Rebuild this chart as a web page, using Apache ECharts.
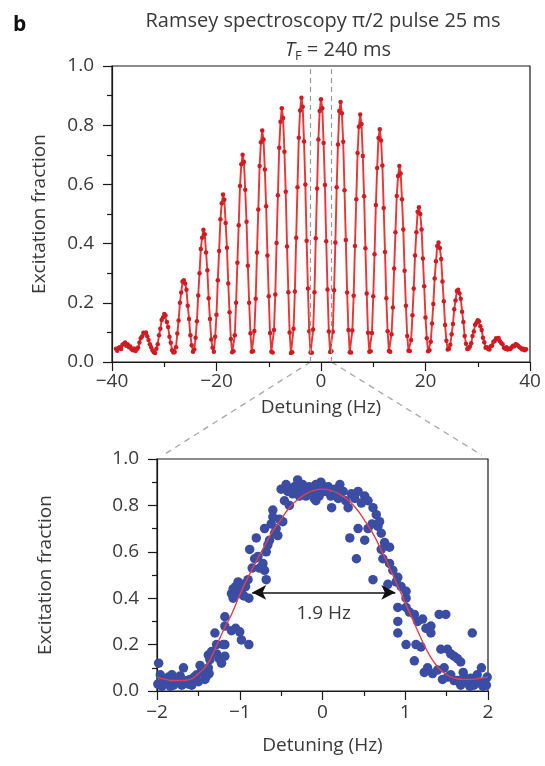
<!DOCTYPE html>
<html><head><meta charset="utf-8">
<script src="https://cdn.jsdelivr.net/npm/echarts@6/dist/echarts.min.js"></script>
<style>html,body{margin:0;padding:0;background:#fff}#c{width:545px;height:766px}</style>
</head><body><div id="c"></div>
<script>
// ---- Top panel: Ramsey fringes, detuning scan (Hz) ----
const topDetuningStart = -39.25;
const topDetuningStep = 0.25;
const topExcitation = [
  0.045,0.038,0.047,0.050,0.044,0.058,0.062,0.066,0.055,0.060,0.050,0.052,0.043,0.040,0.046,
  0.037,0.043,0.049,0.066,0.080,0.086,0.099,0.096,0.100,0.087,0.074,0.060,0.050,0.040,0.033,
  0.030,0.045,0.060,0.090,0.112,0.142,0.150,0.162,0.157,0.135,0.118,0.085,0.065,0.040,0.032,
  0.034,0.050,0.096,0.140,0.200,0.235,0.272,0.276,0.265,0.244,0.190,0.145,0.090,0.057,0.035,
  0.042,0.082,0.138,0.225,0.300,0.382,0.420,0.447,0.432,0.370,0.310,0.215,0.145,0.076,0.048,
  0.035,0.085,0.160,0.276,0.375,0.482,0.536,0.566,0.548,0.470,0.386,0.265,0.168,0.078,0.033,
  0.036,0.090,0.200,0.335,0.462,0.595,0.668,0.700,0.676,0.582,0.474,0.325,0.200,0.097,0.035,
  0.036,0.105,0.214,0.370,0.515,0.662,0.742,0.782,0.752,0.650,0.526,0.360,0.222,0.098,0.035,
  0.032,0.108,0.228,0.402,0.563,0.724,0.812,0.857,0.824,0.710,0.575,0.390,0.236,0.100,0.030,
  0.033,0.112,0.238,0.420,0.590,0.758,0.850,0.893,0.862,0.745,0.600,0.410,0.248,0.104,0.032,
  0.031,0.110,0.236,0.418,0.586,0.752,0.848,0.888,0.857,0.740,0.598,0.408,0.245,0.103,0.034,
  0.036,0.102,0.242,0.404,0.590,0.735,0.848,0.878,0.840,0.744,0.580,0.412,0.235,0.108,0.033,
  0.032,0.106,0.224,0.392,0.550,0.706,0.795,0.836,0.804,0.696,0.560,0.384,0.231,0.099,0.035,
  0.036,0.098,0.222,0.364,0.530,0.655,0.757,0.786,0.748,0.664,0.520,0.372,0.215,0.104,0.037,
  0.035,0.094,0.184,0.316,0.438,0.561,0.628,0.662,0.637,0.550,0.448,0.308,0.190,0.088,0.038,
  0.037,0.074,0.158,0.248,0.360,0.438,0.508,0.523,0.500,0.448,0.350,0.256,0.150,0.080,0.036,
  0.040,0.068,0.130,0.196,0.282,0.340,0.392,0.404,0.385,0.348,0.272,0.205,0.125,0.072,0.042,
  0.045,0.058,0.094,0.128,0.178,0.208,0.240,0.244,0.232,0.214,0.170,0.135,0.088,0.062,0.044,
  0.046,0.052,0.063,0.088,0.103,0.126,0.133,0.141,0.138,0.121,0.108,0.082,0.067,0.048,0.050,
  0.044,0.042,0.053,0.056,0.068,0.071,0.080,0.078,0.081,0.070,0.064,0.060,0.048,0.045,0.050,
  0.042,0.046,0.044,0.050,0.055,0.053,0.060,0.058,0.054,0.050,0.047,0.042,0.045,0.040,0.043
];
const topXTicks = [-40, -20, 0, 20, 40];
const yTicks = [0, 0.2, 0.4, 0.6, 0.8, 1.0];
const zoomRange = [-2, 2];

// ---- Bottom panel: central fringe, measured points and fit ----
const zoomPoints = [
  [-1.98,0.12],[-1.96,0.07],[-1.99,0.03],[-1.94,0.02],[-1.90,0.04],[-1.86,0.06],[-1.84,0.02],[-1.80,0.025],
  [-1.76,0.05],[-1.74,0.04],[-1.70,0.025],[-1.68,0.10],[-1.64,0.045],[-1.62,0.03],[-1.60,0.05],[-1.58,0.025],
  [-1.55,0.06],[-1.52,0.07],[-1.50,0.04],[-1.48,0.11],[-1.46,0.09],[-1.44,0.08],[-1.42,0.05],[-1.40,0.065],
  [-1.38,0.10],[-1.37,0.075],[-1.92,0.05],[-1.82,0.07],[-1.72,0.065],
  [-1.36,0.135],[-1.38,0.155],[-1.34,0.17],[-1.30,0.25],[-1.28,0.16],[-1.28,0.20],[-1.25,0.14],[-1.22,0.12],
  [-1.20,0.20],[-1.18,0.15],[-1.18,0.20],[-1.18,0.28],[-1.18,0.32],[-1.10,0.26],[-1.05,0.27],[-1.00,0.255],
  [-0.98,0.22],[-0.89,0.20],[-1.10,0.42],[-1.08,0.44],[-1.08,0.40],[-1.05,0.45],[-1.02,0.47],[-1.00,0.42],
  [-0.98,0.43],[-0.96,0.46],[-0.93,0.45],[-0.90,0.48],[-0.89,0.40],[-0.95,0.41],
  [-0.88,0.61],[-0.85,0.53],[-0.82,0.57],[-0.80,0.66],[-0.78,0.58],[-0.76,0.53],[-0.72,0.55],[-0.70,0.52],
  [-0.68,0.60],[-0.68,0.48],[-0.70,0.70],[-0.66,0.63],[-0.64,0.65],[-0.62,0.72],[-0.60,0.78],[-0.60,0.75],
  [-0.58,0.68],[-0.56,0.70],[-0.54,0.67],[-0.52,0.74],[-0.48,0.73],[-0.50,0.87],[-0.46,0.82],[-0.44,0.89],
  [-0.42,0.86],[-0.40,0.80],[-0.36,0.85],[-0.34,0.88],[-0.30,0.91],[-0.32,0.87],[-0.28,0.84],[-0.24,0.89],
  [-0.22,0.86],[-0.20,0.84],[-0.16,0.88],[-0.12,0.86],[-0.10,0.83],[-0.08,0.89],[-0.06,0.87],[-0.04,0.84],
  [-0.08,0.82],[-0.02,0.90],
  [-0.01,0.89],[0.03,0.86],[0.07,0.88],[0.10,0.84],[0.11,0.79],[0.15,0.87],[0.17,0.85],[0.19,0.83],
  [0.21,0.89],[0.25,0.86],[0.28,0.82],[0.31,0.79],[0.35,0.85],[0.39,0.83],[0.43,0.86],[0.47,0.81],
  [0.51,0.84],[0.55,0.82],[0.43,0.70],[0.55,0.70],[0.61,0.79],[0.65,0.76],[0.69,0.73],[0.71,0.68],
  [0.51,0.65],[0.33,0.66],[0.41,0.57],[0.60,0.72],[0.67,0.71],
  [0.71,0.61],[0.75,0.64],[0.81,0.62],[0.73,0.57],[0.81,0.55],[0.85,0.52],[0.91,0.49],[0.89,0.47],
  [0.79,0.46],[0.61,0.48],[0.95,0.45],[1.01,0.43],[1.01,0.40],[0.91,0.36],[1.01,0.36],[1.05,0.34],
  [1.11,0.33],[1.15,0.30],[1.21,0.31],[0.91,0.30],[0.91,0.25],[1.25,0.27],[1.31,0.28],[1.31,0.25],
  [1.41,0.33],[1.49,0.33],[1.19,0.19],[1.01,0.20],[1.13,0.20],[1.11,0.13],[1.43,0.18],[1.51,0.18],
  [1.55,0.16],[1.59,0.15],[1.63,0.14],[1.67,0.125],[1.81,0.25],[1.23,0.08],[1.27,0.10],[1.33,0.075],
  [1.39,0.09],[1.47,0.10],[1.55,0.07],[1.63,0.045],[1.71,0.06],[1.79,0.055],[1.87,0.07],[1.92,0.10],
  [1.96,0.04],[1.67,0.025],[1.83,0.025],[1.94,0.02],[1.75,0.04],[1.59,0.045],[1.99,0.06],[1.90,0.035],
  [1.70,0.08],[1.51,0.06],[1.45,0.05],[1.85,0.05],[1.98,0.025],[1.78,0.02]
];
const fitDetuning = [-2.0,-1.9,-1.8,-1.7,-1.6,-1.5,-1.4,-1.3,-1.2,-1.1,-1.0,-0.9,-0.8,-0.7,-0.6,-0.5,-0.4,-0.3,-0.2,-0.1,
  0.0,0.1,0.2,0.3,0.4,0.5,0.6,0.7,0.8,0.9,1.0,1.1,1.2,1.3,1.4,1.5,1.6,1.7,1.8,1.9,2.0];
const fitExcitation = [0.060,0.050,0.045,0.045,0.050,0.075,0.110,0.180,0.260,0.330,0.415,0.490,0.560,0.625,0.690,0.740,0.790,0.825,0.850,0.865,
  0.870,0.865,0.850,0.825,0.790,0.740,0.685,0.615,0.540,0.460,0.380,0.300,0.220,0.150,0.100,0.070,0.055,0.050,0.050,0.055,0.060];
const fwhmLabel = '1.9 Hz';
const fwhmArrow = [-0.85, 0.88];
const fwhmLevel = 0.425;
const bottomXTicks = [-2, -1, 0, 1, 2];

const FONT = '"Open Sans", "Noto Sans", sans-serif';
const TXT = '#3a3a3a';
const fmtNum = v => (v < 0 ? '\u2212' + Math.abs(v) : String(v));

const chart = echarts.init(document.getElementById('c'), null, {renderer: 'canvas'});

function axisCommon() {
  return {
    axisLine: {show: true, onZero: false, lineStyle: {color: '#1a1a1a', width: 1.2}},
    axisTick: {show: true, length: 9, lineStyle: {color: '#1a1a1a', width: 1.2}},
    minorTick: {show: true, splitNumber: 2, length: 5, lineStyle: {color: '#1a1a1a', width: 1.2}},
    splitLine: {show: false},
    nameTextStyle: {fontFamily: FONT, fontSize: 19, color: TXT},
    nameLocation: 'middle'
  };
}

const topData = topExcitation.map((v, i) => [topDetuningStart + i * topDetuningStep, v]);
const fitData = fitDetuning.map((x, i) => [x, fitExcitation[i]]);

chart.setOption({
  animation: false,
  backgroundColor: '#fff',
  grid: [
    {left: 112, right: 15, top: 66, height: 296, show: true, borderColor: '#1a1a1a', borderWidth: 1.2, backgroundColor: 'transparent'},
    {left: 157, right: 57, top: 459, height: 232, show: true, borderColor: '#1a1a1a', borderWidth: 1.2, backgroundColor: 'transparent'}
  ],
  xAxis: [
    Object.assign(axisCommon(), {
      gridIndex: 0, type: 'value', min: topXTicks[0], max: topXTicks[topXTicks.length - 1], interval: 20,
      name: 'Detuning (Hz)', nameGap: 36,
      axisLabel: {fontFamily: FONT, fontSize: 19, color: TXT, margin: 10, formatter: fmtNum}
    }),
    Object.assign(axisCommon(), {
      gridIndex: 1, type: 'value', min: bottomXTicks[0], max: bottomXTicks[bottomXTicks.length - 1], interval: 1,
      name: 'Detuning (Hz)', nameGap: 45,
      axisLabel: {fontFamily: FONT, fontSize: 19, color: TXT, margin: 12, formatter: fmtNum}
    })
  ],
  yAxis: [
    Object.assign(axisCommon(), {
      gridIndex: 0, type: 'value', min: yTicks[0], max: yTicks[yTicks.length - 1], interval: 0.2,
      name: 'Excitation fraction', nameGap: 63,
      axisLabel: {fontFamily: FONT, fontSize: 19, color: TXT, margin: 18, formatter: v => v.toFixed(1)}
    }),
    Object.assign(axisCommon(), {
      gridIndex: 1, type: 'value', min: yTicks[0], max: yTicks[yTicks.length - 1], interval: 0.2,
      name: 'Excitation fraction', nameGap: 102,
      axisLabel: {fontFamily: FONT, fontSize: 19, color: TXT, margin: 18, formatter: v => v.toFixed(1)}
    })
  ],
  series: [
    {
      type: 'line', xAxisIndex: 0, yAxisIndex: 0, data: topData,
      symbol: 'circle', symbolSize: 4.5, showSymbol: true,
      itemStyle: {color: '#cf1b22'},
      lineStyle: {color: '#ec3434', width: 1.9},
      markLine: {
        silent: true, symbol: 'none', animation: false,
        lineStyle: {type: [5, 4], color: '#9a9a9a', width: 1.2},
        label: {show: false},
        data: [
          [{coord: [zoomRange[0], 0]}, {coord: [zoomRange[0], 1]}],
          [{coord: [zoomRange[1], 0]}, {coord: [zoomRange[1], 1]}]
        ]
      }
    },
    {
      type: 'scatter', xAxisIndex: 1, yAxisIndex: 1, data: zoomPoints,
      symbol: 'circle', symbolSize: 9.5,
      itemStyle: {color: '#3b4da3', opacity: 1}
    },
    {
      type: 'line', xAxisIndex: 1, yAxisIndex: 1, data: fitData, smooth: true,
      showSymbol: false, z: 5,
      lineStyle: {color: '#e0404f', width: 1.4},
      markLine: {
        silent: true, animation: false,
        symbol: ['arrow', 'arrow'], symbolSize: [11, 14],
        lineStyle: {type: 'solid', color: '#111', width: 1.5},
        label: {show: true, position: 'insideMiddleBottom', distance: 12, formatter: fwhmLabel,
                fontFamily: FONT, fontSize: 19, color: TXT},
        data: [[{coord: [fwhmArrow[0], fwhmLevel]}, {coord: [fwhmArrow[1], fwhmLevel]}]]
      }
    }
  ]
});

function drawOverlay() {
  const pL = chart.convertToPixel({xAxisIndex: 0, yAxisIndex: 0}, [zoomRange[0], 0]);
  const pR = chart.convertToPixel({xAxisIndex: 0, yAxisIndex: 0}, [zoomRange[1], 0]);
  const qL = chart.convertToPixel({xAxisIndex: 1, yAxisIndex: 1}, [zoomRange[0], 1]);
  const qR = chart.convertToPixel({xAxisIndex: 1, yAxisIndex: 1}, [zoomRange[1], 1]);
  const shorten = (a, b, f) => [a[0] + (b[0] - a[0]) * f, a[1] + (b[1] - a[1]) * f];
  const eL = shorten(pL, qL, 0.96), eR = shorten(pR, qR, 0.96);
  const cx = (pL[0] + pR[0]) / 2;
  chart.setOption({
    graphic: [
      {type: 'line', silent: true, z: 0, shape: {x1: pL[0], y1: pL[1], x2: eL[0], y2: eL[1]},
       style: {stroke: '#a8a8a8', lineWidth: 1.3, lineDash: [6, 5]}},
      {type: 'line', silent: true, z: 0, shape: {x1: pR[0], y1: pR[1], x2: eR[0], y2: eR[1]},
       style: {stroke: '#a8a8a8', lineWidth: 1.3, lineDash: [6, 5]}},
      {type: 'text', left: 13, top: 15, style: {text: 'b', font: 'bold 21px ' + FONT, fill: '#111'}},
      {type: 'text', x: cx + 2, y: 21, style: {text: 'Ramsey spectroscopy \u03c0/2 pulse 25 ms', font: '20px ' + FONT,
        fill: TXT, align: 'center', verticalAlign: 'middle'}},
      {type: 'text', x: cx + 17, y: 50, style: {
        text: '{t|T}{s|F}{n| = 240 ms}', align: 'center', verticalAlign: 'middle',
        rich: {
          t: {font: 'italic 20px ' + FONT, fill: TXT},
          s: {font: '13px ' + FONT, fill: TXT, padding: [12, 0, 0, 0]},
          n: {font: '20px ' + FONT, fill: TXT}
        }}}
    ]
  });
}
drawOverlay();
</script>
</body></html>
